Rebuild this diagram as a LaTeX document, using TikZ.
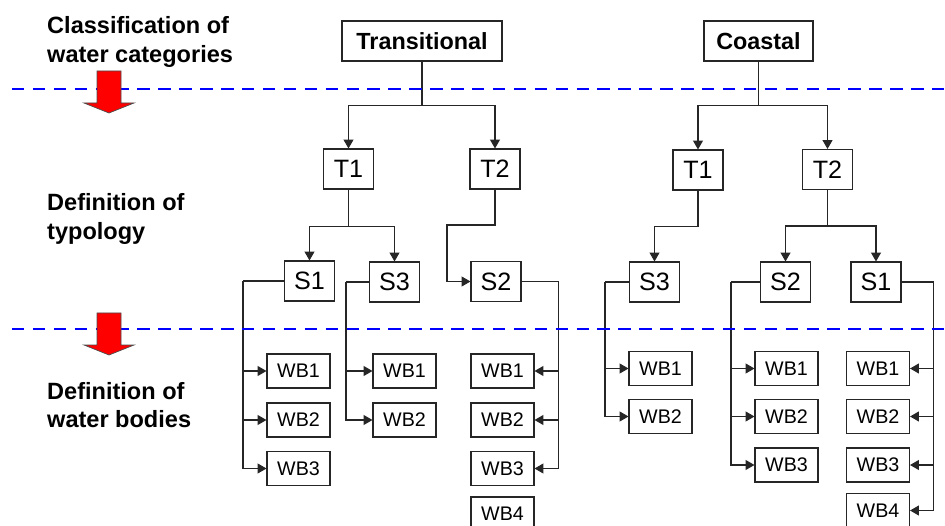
\documentclass[tikz,border=0pt]{standalone}
\usepackage{fontspec}
\setmainfont{Liberation Sans}
\usetikzlibrary{arrows.meta}
\definecolor{sepblue}{RGB}{0,0,255}
\definecolor{downred}{RGB}{255,0,0}
\tikzset{
  blk/.style={draw=black!85,line width=0.6pt,inner sep=0pt,align=center},
  topbox/.style={blk,minimum height=0.8cm,font=\bfseries\fontsize{13.3}{16}\selectfont},
  tbox/.style={blk,minimum width=1.0cm,minimum height=0.8cm,font=\fontsize{14.3}{17}\selectfont},
  wb/.style={blk,minimum width=1.26cm,minimum height=0.68cm,font=\fontsize{11.2}{13}\selectfont},
  io/.style={anchor=west,align=left,font=\bfseries\fontsize{13.4}{16.4}\selectfont},
  ar/.style={-{Triangle[length=5pt,width=5.6pt]},line width=0.6pt,black!85},
  ln/.style={line width=0.6pt,black!85},
  sep/.style={sepblue,line width=1.7pt,dash pattern=on 7.1pt off 4.8pt},
}

\begin{document}
\begin{tikzpicture}[x=0.02cm,y=-0.02cm]
  \useasboundingbox (0,0) rectangle (945,526);
  \clip (0,0) rectangle (945,526);
  % stage labels
  \node[io] (lcat) at (41,42) {Classification of\\water categories};
  \node[io] (ltyp) at (41,219) {Definition of\\typology};
  \node[io] (lwb) at (41,405) {Definition of\\water bodies};
  % categories
  \node[topbox,minimum width=3.2cm] (tr) at (422,41) {Transitional};
  \node[topbox,minimum width=2.18cm] (co) at (758.5,41) {Coastal};
  % types
  \node[tbox] (trT1) at (348.5,169) {T1};
  \node[tbox] (trT2) at (495,169) {T2};
  \node[tbox] (coT1) at (698,170) {T1};
  \node[tbox] (coT2) at (827.5,169.5) {T2};
  % sites
  \node[tbox] (trS1) at (309.5,281) {S1};
  \node[tbox] (trS3) at (394.5,282) {S3};
  \node[tbox] (trS2) at (496,281.5) {S2};
  \node[tbox] (coS3) at (654.5,282) {S3};
  \node[tbox] (coS2) at (785.5,282) {S2};
  \node[tbox] (coS1) at (876,282) {S1};
  % water bodies
  \foreach \i/\y in {1/371,2/420,3/468.5} {\node[wb] (trS1w\i) at (298.5,\y) {WB\i};}
  \foreach \i/\y in {1/371,2/420} {\node[wb] (trS3w\i) at (404.5,\y) {WB\i};}
  \foreach \i/\y in {1/371,2/420,3/468.5,4/514} {\node[wb] (trS2w\i) at (502.5,\y) {WB\i};}
  \foreach \i/\y in {1/368.5,2/416.5} {\node[wb] (coS3w\i) at (660.5,\y) {WB\i};}
  \foreach \i/\y in {1/368.5,2/416.5,3/465} {\node[wb] (coS2w\i) at (786.5,\y) {WB\i};}
  \foreach \i/\y in {1/368.5,2/416.5,3/465,4/510.5} {\node[wb] (coS1w\i) at (878,\y) {WB\i};}
  % category -> type
  \draw[ar] (tr.south) -- ++(0,44) -| (trT1.north);
  \draw[ar] (tr.south) -- ++(0,44) -| (trT2.north);
  \draw[ar] (co.south) -- ++(0,44) -| (coT1.north);
  \draw[ar] (co.south) -- ++(0,44) -| (coT2.north);
  % type -> site
  \draw[ar] (trT1.south) -- ++(0,37) -| (trS1.north);
  \draw[ar] (trT1.south) -- ++(0,37) -| (trS3.north);
  \coordinate (trbend) at (447,225);
  \draw[ar] (trT2.south) |- (trbend) |- (trS2.west);
  \draw[ar] (coT1.south) -- ++(0,36) -| (coS3.north);
  \draw[ar] (coT2.south) -- ++(0,36) -| (coS2.north);
  \draw[ar] (coT2.south) -- ++(0,36) -| (coS1.north);
  % site -> water bodies
  \draw[ln] (trS1.west) -- ++(-41,0) coordinate (b1);
  \foreach \i in {1,2,3} {\draw[ar] (b1) |- (trS1w\i.west);}
  \draw[ln] (trS3.west) -- ++(-23,0) coordinate (b2);
  \foreach \i in {1,2} {\draw[ar] (b2) |- (trS3w\i.west);}
  \draw[ln] (trS2.east) -- ++(37,0) coordinate (b3);
  \foreach \i in {1,2,3} {\draw[ar] (b3) |- (trS2w\i.east);}
  \draw[ln] (coS3.west) -- ++(-24,0) coordinate (b4);
  \foreach \i in {1,2} {\draw[ar] (b4) |- (coS3w\i.west);}
  \draw[ln] (coS2.west) -- ++(-29,0) coordinate (b5);
  \foreach \i in {1,2,3} {\draw[ar] (b5) |- (coS2w\i.west);}
  \draw[ln] (coS1.east) -- ++(32,0) coordinate (b6);
  \foreach \i in {1,2,3,4} {\draw[ar] (b6) |- (coS1w\i.east);}
  % stage borders
  \draw[sep] (12,89) -- (945,89);
  \draw[sep] (12,329) -- (945,329);
  \foreach \y in {0,242}
    \draw[fill=downred,draw=black!70,line width=0.4pt,yshift=-\y*0.02cm]
      (97,71) -- (121,71) -- (121,103) -- (134,103) -- (109,113) -- (84,103) -- (97,103) -- cycle;
\end{tikzpicture}
\end{document}
